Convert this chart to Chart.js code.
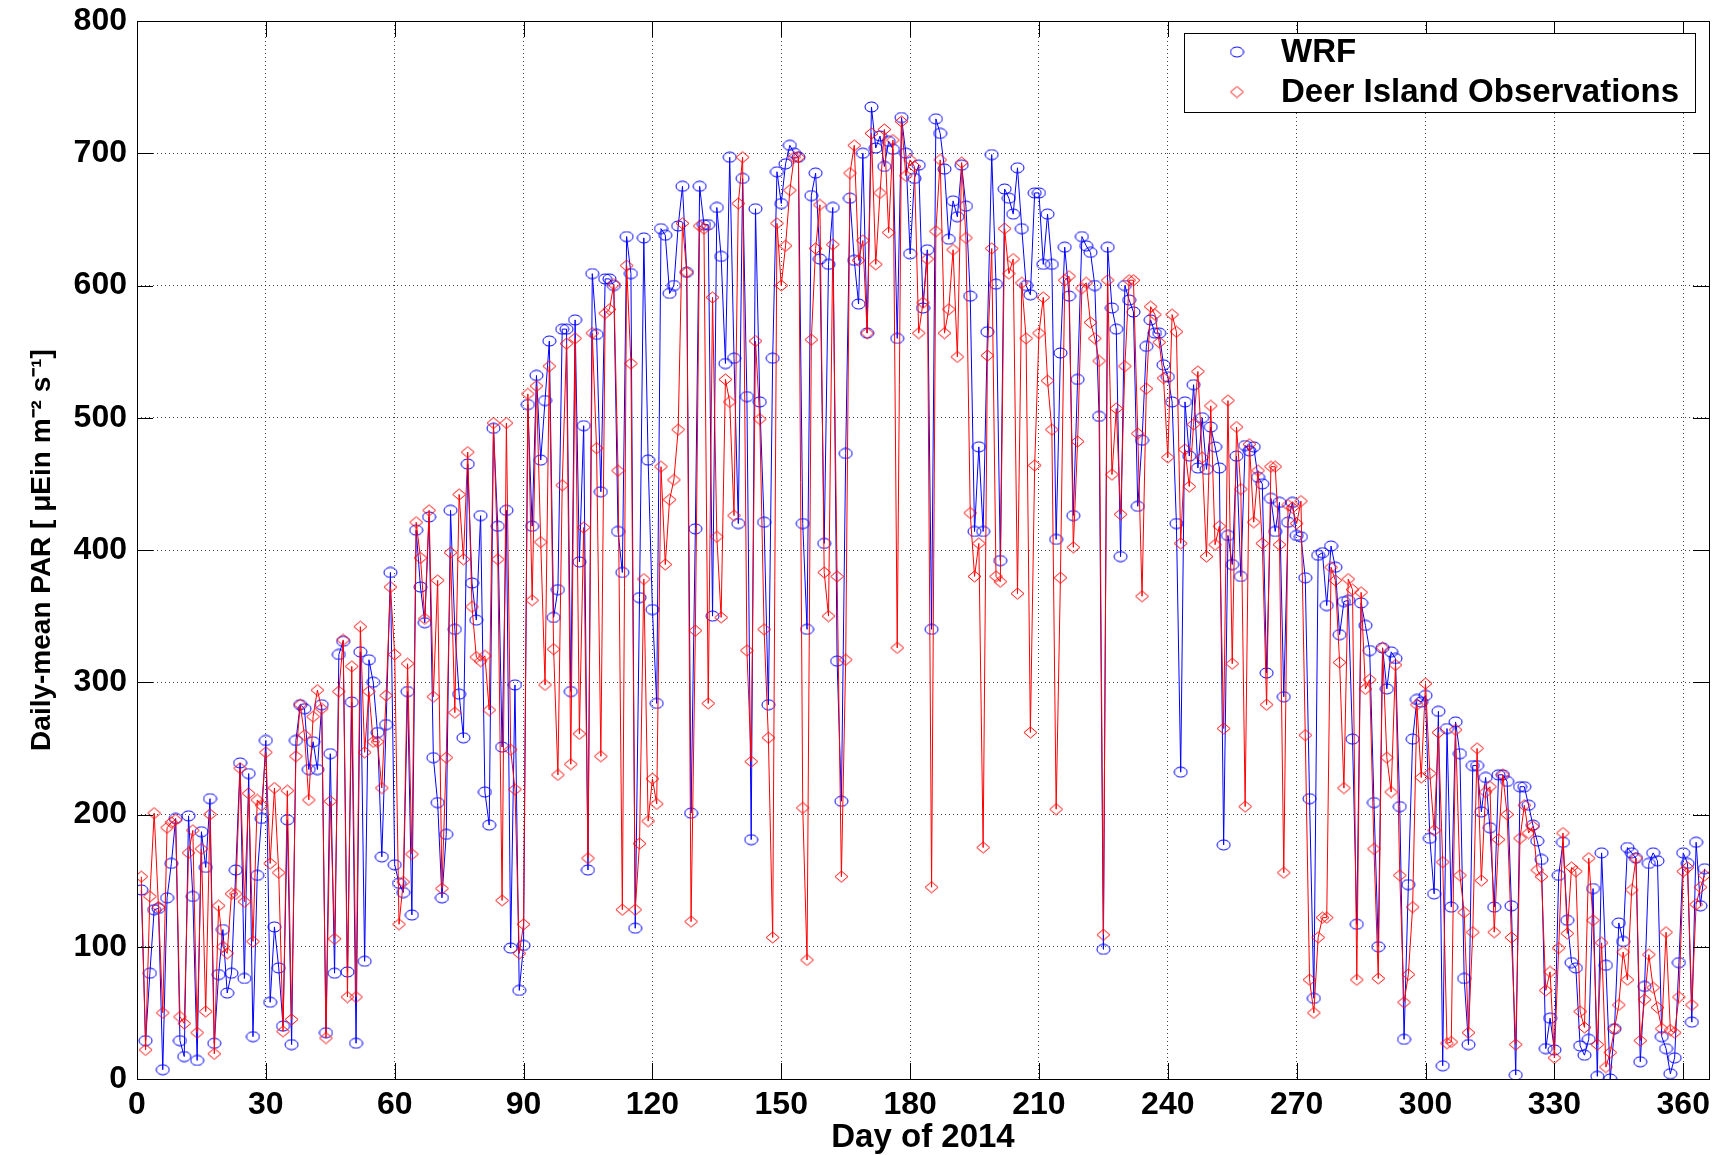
<!DOCTYPE html>
<html>
<head>
<meta charset="utf-8">
<script src="https://cdn.jsdelivr.net/npm/chart.js@4.4.1/dist/chart.umd.min.js"></script>
<style>
html,body{margin:0;padding:0;background:#ffffff;}
canvas{display:block;}
</style>
</head>
<body>
<canvas id="c" width="1735" height="1155"></canvas>
<script>
// ---- Data, daily values, days 1..365 ----
const wrf_001_031 = [143,29,80,128,129,7,137,163,197,29,17,199,138,14,187,160,212,27,79,113,65,80,158,239,76,231,32,154,197,256,58];
const wrf_032_060 = [115,84,40,196,26,256,283,280,234,255,234,283,35,246,80,321,331,81,285,27,323,89,317,300,262,168,268,383,162];
const wrf_061_092 = [148,141,293,124,415,372,345,425,243,209,137,185,430,340,291,258,465,375,347,426,217,192,492,418,251,430,99,298,67,101,510,418];
const wrf_093_122 = [532,468,513,558,349,370,567,567,293,574,391,494,158,609,563,444,605,605,600,414,383,637,609,114,364,636,468,355,284,643];
const wrf_123_151 = [638,594,600,645,675,610,201,416,675,646,646,350,659,622,541,697,545,420,681,516,181,658,512,421,283,545,686,662,692];
const wrf_152_181 = [706,700,697,420,340,668,685,620,405,616,659,316,210,473,666,619,586,700,564,735,704,713,690,709,703,560,727,700,624,681];
const wrf_182_212 = [691,583,627,340,726,715,688,635,664,652,691,660,592,414,478,414,565,699,601,392,673,666,654,689,643,600,593,670,670,616,654];
const wrf_213_243 = [616,408,549,629,592,426,529,637,630,625,600,501,98,629,583,567,395,600,589,580,433,483,554,574,564,564,540,531,512,420,232];
const wrf_244_271 = [512,471,525,462,500,461,493,478,462,177,411,389,471,380,479,475,478,455,450,307,439,414,436,289,421,436,411,410];
const wrf_272_303 = [379,212,61,396,398,358,403,387,336,361,362,257,117,360,343,324,209,100,326,295,323,318,206,30,147,257,287,285,290,182,140,278];
const wrf_304_334 = [10,265,130,270,246,76,26,237,237,202,228,190,130,230,230,225,131,3,221,221,207,192,180,166,23,46,22,154,179,120,88];
const wrf_335_365 = [84,25,18,30,144,2,171,86,0,38,118,104,175,171,167,13,70,163,171,165,32,23,4,16,88,171,163,43,179,131,159];

const obs_001_031 = [153,22,138,201,130,50,190,194,196,47,42,171,188,35,174,51,200,19,131,100,95,140,140,235,134,216,104,211,207,247,163];
const obs_032_060 = [220,156,36,218,45,244,283,260,211,274,294,280,31,210,106,293,332,62,312,62,342,247,293,255,255,220,290,372,321];
const obs_061_092 = [117,149,314,170,421,394,348,430,289,377,144,243,398,277,442,393,474,357,319,316,320,279,496,393,135,496,249,219,95,117,518,362];
const obs_093_122 = [524,406,298,539,325,230,449,556,238,560,261,417,167,564,477,244,579,582,601,460,128,615,541,128,178,378,195,227,208,463];
const obs_123_151 = [389,438,453,491,647,610,119,339,645,643,284,591,410,349,529,512,426,662,697,324,240,558,499,340,258,107,647,600,630];
const obs_152_181 = [672,697,697,205,90,559,628,661,383,350,631,380,153,317,685,706,619,634,564,715,616,670,718,640,710,326,724,683,695,690];
const obs_182_212 = [564,587,620,145,641,695,564,582,627,546,693,636,428,380,405,175,547,628,380,376,643,609,620,367,602,560,262,464,564,591,528];
const obs_213_243 = [491,204,379,604,607,402,482,598,602,572,560,543,109,604,457,507,427,539,604,604,488,365,522,584,578,557,530,470,578,565,405];
const obs_244_271 = [476,448,495,535,470,395,509,404,418,265,513,314,493,446,206,480,421,460,405,283,463,463,404,156,434,432,420,437];
const obs_272_303 = [260,75,50,107,122,122,387,377,315,220,378,370,75,368,295,302,174,76,326,243,217,313,154,58,79,130,283,228,299,231,188,262];
const obs_304_334 = [164,27,28,264,154,126,35,111,250,150,217,221,111,181,230,200,107,26,182,207,186,191,158,153,67,81,16,99,186,110,160];
const obs_335_365 = [157,51,39,167,120,26,103,9,20,38,56,96,75,143,167,29,60,94,69,54,38,111,37,35,62,157,160,56,132,145,154];

const xTicks = [0,30,60,90,120,150,180,210,240,270,300,330,360];
const yTicks = [0,100,200,300,400,500,600,700,800];
const seriesNames = ['WRF', 'Deer Island Observations'];
const xTitle = 'Day of 2014';
const yTitle = 'Daily-mean PAR [ \u03bcEin m\u207b\u00b2 s\u207b\u00b9]';

const WRF = [].concat(wrf_001_031, wrf_032_060, wrf_061_092, wrf_093_122, wrf_123_151, wrf_152_181,
  wrf_182_212, wrf_213_243, wrf_244_271, wrf_272_303, wrf_304_334, wrf_335_365);
const OBS = [].concat(obs_001_031, obs_032_060, obs_061_092, obs_093_122, obs_123_151, obs_152_181,
  obs_182_212, obs_213_243, obs_244_271, obs_272_303, obs_304_334, obs_335_365);
const days = WRF.map((_, i) => i + 1);

// ---- marker images ----
function ellipseMarker(color, w, h) {
  const c = document.createElement('canvas');
  c.width = w + 2; c.height = h + 2;
  const g = c.getContext('2d');
  g.strokeStyle = color; g.lineWidth = 1;
  g.beginPath();
  g.ellipse((w + 2) / 2, (h + 2) / 2, w / 2, h / 2, 0, 0, Math.PI * 2);
  g.stroke();
  return c;
}
function diamondMarker(color, w, h) {
  const c = document.createElement('canvas');
  c.width = w + 2; c.height = h + 2;
  const g = c.getContext('2d');
  const cx = (w + 2) / 2, cy = (h + 2) / 2;
  g.strokeStyle = color; g.lineWidth = 1;
  g.beginPath();
  g.moveTo(cx, cy - h / 2); g.lineTo(cx + w / 2, cy); g.lineTo(cx, cy + h / 2); g.lineTo(cx - w / 2, cy);
  g.closePath();
  g.stroke();
  return c;
}
const circleImg = ellipseMarker('#0000ff', 13, 10);
const diamondImg = diamondMarker('#ff0000', 13, 11);

const FONT = "'Liberation Sans', Arial, Helvetica, sans-serif";

const boxPlugin = {
  id: 'matlabBox',
  afterDraw(chart) {
    const {ctx, chartArea: a, scales} = chart;
    ctx.save();
    ctx.strokeStyle = '#000';
    ctx.lineWidth = 1;
    const L = 16;
    ctx.beginPath();
    scales.x.ticks.forEach(t => {
      const px = Math.round(scales.x.getPixelForValue(t.value)) + 0.5;
      ctx.moveTo(px, a.bottom); ctx.lineTo(px, a.bottom - L);
      ctx.moveTo(px, a.top); ctx.lineTo(px, a.top + L);
    });
    scales.y.ticks.forEach(t => {
      const py = Math.round(scales.y.getPixelForValue(t.value)) + 0.5;
      ctx.moveTo(a.left, py); ctx.lineTo(a.left + L, py);
      ctx.moveTo(a.right, py); ctx.lineTo(a.right - L, py);
    });
    ctx.stroke();
    ctx.strokeRect(Math.round(a.left) + 0.5, Math.round(a.top) + 0.5,
                   Math.round(a.right - a.left), Math.round(a.bottom - a.top));

    // legend box
    const lx = 1184, ly = 33, lw = 511, lh = 79;
    ctx.fillStyle = '#fff';
    ctx.fillRect(lx, ly, lw, lh);
    ctx.strokeRect(lx + 0.5, ly + 0.5, lw, lh);
    const mx = 1237;
    const rows = [52, 92];
    ctx.drawImage(circleImg, mx - circleImg.width / 2, rows[0] - circleImg.height / 2);
    ctx.drawImage(diamondImg, mx - diamondImg.width / 2, rows[1] - diamondImg.height / 2);
    ctx.fillStyle = '#000';
    ctx.font = 'bold 33px ' + FONT;
    ctx.textAlign = 'left';
    ctx.textBaseline = 'middle';
    ctx.fillText(seriesNames[0], 1281, rows[0] + 1);
    ctx.fillText(seriesNames[1], 1281, rows[1] + 1);
    ctx.restore();
  }
};

new Chart(document.getElementById('c'), {
  type: 'line',
  data: {
    datasets: [
      {
        label: seriesNames[0],
        data: days.map((d, i) => ({x: d, y: WRF[i]})),
        borderColor: '#0000ff',
        borderWidth: 1,
        pointStyle: circleImg,
        pointRadius: 7,
        tension: 0,
        fill: false,
        order: 1
      },
      {
        label: seriesNames[1],
        data: days.map((d, i) => ({x: d, y: OBS[i]})),
        borderColor: '#ff0000',
        borderWidth: 1,
        pointStyle: diamondImg,
        pointRadius: 7,
        tension: 0,
        fill: false,
        order: 0
      }
    ]
  },
  options: {
    responsive: false,
    animation: false,
    devicePixelRatio: 1,
    events: [],
    layout: {padding: {left: 0, top: 21, right: 26, bottom: 0}},
    plugins: {legend: {display: false}, tooltip: {enabled: false}},
    scales: {
      x: {
        type: 'linear',
        min: 0, max: 366,
        afterBuildTicks: s => { s.ticks = xTicks.map(v => ({value: v})); },
        afterFit: s => { s.height = 76; s.paddingLeft = 0; s.paddingRight = 0; },
        grid: {color: 'rgba(0,0,0,0.75)', lineWidth: 1, drawTicks: false},
        border: {display: false, dash: [1, 3]},
        ticks: {color: '#000', font: {family: FONT, size: 32, weight: 'bold'}, padding: 7, maxRotation: 0, autoSkip: false},
        title: {display: true, text: xTitle, color: '#000', font: {family: FONT, size: 33, weight: 'bold', lineHeight: 1.05}, padding: {top: 0, bottom: 0}}
      },
      y: {
        type: 'linear',
        min: 0, max: 800,
        afterBuildTicks: s => { s.ticks = yTicks.map(v => ({value: v})); },
        afterFit: s => { s.width = 137; s.paddingTop = 0; s.paddingBottom = 0; },
        grid: {color: 'rgba(0,0,0,0.75)', lineWidth: 1, drawTicks: false},
        border: {display: false, dash: [1, 3]},
        ticks: {color: '#000', font: {family: FONT, size: 32, weight: 'bold'}, padding: 10},
        title: {display: true, text: yTitle, color: '#000', font: {family: FONT, size: 28, weight: 'bold'}, padding: {top: 25, bottom: 0}}
      }
    }
  },
  plugins: [boxPlugin]
});
</script>
</body>
</html>
